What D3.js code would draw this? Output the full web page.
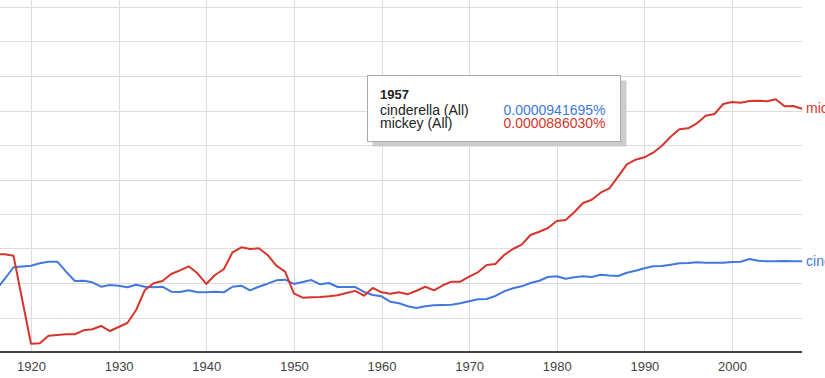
<!DOCTYPE html>
<html>
<meta charset="utf-8">
<style>

body {
  margin: 0;
  font: 13px "Liberation Sans", Arial, sans-serif;
  background: #fff;
}

.grid line {
  stroke: #dcdcdc;
  stroke-width: 1px;
  shape-rendering: crispEdges;
}

.axis-line {
  stroke: #444;
  stroke-width: 2px;
  shape-rendering: crispEdges;
}

.x.axis text {
  fill: #444;
  font-size: 13px;
}

.line {
  fill: none;
  stroke-width: 2px;
  stroke-linejoin: round;
}

.tip text {
  font-size: 14px;
  fill: #222;
}

</style>
<body>
<script src="https://d3js.org/d3.v7.min.js"></script>
<script>

// values are in millionths of a percent (94.1695 -> 0.0000941695%)
var years = d3.range(1916, 2009);

var cinderella = [
  89.9, 105.8, 122.8, 123.9, 125.1, 128.6, 130.9, 130.9, 116.4, 102.9,
  103.3, 101.0, 94.6, 97.1, 96.1, 93.8, 97.5, 94.6, 93.8, 94.6,
  87.4, 87.0, 89.4, 86.5, 86.5, 87.4, 86.5, 94.6, 96.1, 89.4,
  94.6, 99.0, 103.9, 104.8, 98.6, 101.4, 104.3, 98.1, 100.0, 94.2,
  94.2, 94.1695, 87.0, 82.6, 80.7, 72.9, 70.6, 66.4, 63.8, 66.2,
  67.7, 68.1, 68.6, 70.6, 73.5, 76.4, 76.8, 81.2, 88.0, 92.3,
  95.2, 100.0, 103.3, 108.7, 109.7, 106.2, 108.3, 109.7, 108.7, 112.0,
  110.9, 110.1, 114.9, 117.8, 121.3, 124.2, 124.6, 126.5, 128.6, 129.0,
  130.0, 129.4, 129.4, 129.4, 130.4, 130.9, 134.8, 132.3, 131.4, 131.4,
  131.9, 131.4, 131.4
];

var mickey = [
  142.0, 141.6, 139.6, 75.8, 12.0, 12.6, 23.6, 24.6, 25.7, 25.7,
  31.4, 32.9, 37.7, 30.4, 36.2, 42.0, 60.9, 89.9, 99.6, 102.9,
  113.0, 118.4, 124.2, 114.1, 98.6, 111.6, 119.9, 144.5, 151.7, 149.3,
  150.3, 140.6, 125.1, 116.4, 85.1, 78.7, 79.3, 79.7, 80.7, 82.2,
  85.5, 88.6030, 81.6, 92.8, 86.5, 84.5, 86.5, 83.8, 88.8, 94.6,
  89.4, 96.7, 101.9, 101.9, 109.1, 115.5, 126.1, 127.5, 140.6, 149.3,
  155.5, 169.6, 174.3, 179.7, 189.9, 191.3, 202.5, 215.9, 220.7, 230.9,
  237.2, 254.1, 272.0, 278.7, 282.2, 288.8, 299.0, 312.0, 322.8, 324.2,
  331.4, 342.5, 344.9, 359.4, 362.3, 361.3, 363.8, 364.2, 363.3, 366.2,
  356.1, 356.5, 352.6
];

var series = [
  {name: "cinderella", label: "cinderella (All)", values: cinderella, color: "#4277e0"},
  {name: "mickey", label: "mickey (All)", values: mickey, color: "#d6352c"}
];

var xTicks = d3.range(1920, 2001, 10);
var yTicks = d3.range(50, 501, 50);
var tipYear = 1957;

var width = 825,
    height = 378,
    plotRight = 802,
    baseline = 352;

var x = d3.scaleLinear()
    .domain([1920, 2000])
    .range([31, 732]);

var y = d3.scaleLinear()
    .domain([0, 500])
    .range([baseline, 7]);

var svg = d3.select("body").append("svg")
    .attr("width", width)
    .attr("height", height);

svg.append("defs").append("clipPath")
    .attr("id", "plot")
  .append("rect")
    .attr("x", 0)
    .attr("y", 0)
    .attr("width", plotRight + 1)
    .attr("height", baseline);

var grid = svg.append("g").attr("class", "grid");

grid.selectAll(".h")
    .data(yTicks)
  .enter().append("line")
    .attr("class", "h")
    .attr("x1", 0)
    .attr("x2", plotRight)
    .attr("y1", function(d) { return Math.round(y(d)) + 0.5; })
    .attr("y2", function(d) { return Math.round(y(d)) + 0.5; });

grid.selectAll(".v")
    .data(xTicks)
  .enter().append("line")
    .attr("class", "v")
    .attr("x1", function(d) { return Math.round(x(d)) + 0.5; })
    .attr("x2", function(d) { return Math.round(x(d)) + 0.5; })
    .attr("y1", 0)
    .attr("y2", baseline);

var line = d3.line()
    .x(function(d, i) { return x(years[i]); })
    .y(function(d) { return y(d); });

var plot = svg.append("g").attr("clip-path", "url(#plot)");

plot.selectAll(".line")
    .data(series)
  .enter().append("path")
    .attr("class", "line")
    .attr("stroke", function(d) { return d.color; })
    .attr("d", function(d) { return line(d.values); });

svg.selectAll(".end-label")
    .data(series)
  .enter().append("text")
    .attr("class", "end-label")
    .attr("x", x(years[years.length - 1]) + 4)
    .attr("y", function(d) { return y(d.values[d.values.length - 1]); })
    .attr("dy", "0.3em")
    .attr("fill", function(d) { return d.color; })
    .style("font-size", "14px")
    .text(function(d) { return d.name; });

svg.append("line")
    .attr("class", "axis-line")
    .attr("x1", 0)
    .attr("x2", plotRight)
    .attr("y1", baseline)
    .attr("y2", baseline);

var xAxis = d3.axisBottom(x)
    .tickValues(xTicks)
    .tickFormat(d3.format("d"))
    .tickSize(0)
    .tickPadding(9);

svg.append("g")
    .attr("class", "x axis")
    .attr("transform", "translate(0," + (baseline + 1) + ")")
    .call(xAxis)
    .call(function(g) { g.select(".domain").remove(); });

// hover tooltip for 1957
var tip = svg.append("g")
    .attr("class", "tip")
    .attr("transform", "translate(367.5,75.5)");

tip.append("rect")
    .attr("x", 5)
    .attr("y", 5)
    .attr("width", 254)
    .attr("height", 66)
    .attr("fill", "#cccccc");

tip.append("rect")
    .attr("width", 253)
    .attr("height", 66)
    .attr("fill", "#fff")
    .attr("stroke", "#a8a8a8");

tip.append("text")
    .attr("x", 12.5)
    .attr("y", 23)
    .style("font-weight", "bold")
    .style("font-size", "13px")
    .text(tipYear);

var ti = years.indexOf(tipYear);

var rows = tip.selectAll(".row")
    .data(series)
  .enter().append("g")
    .attr("class", "row")
    .attr("transform", function(d, i) { return "translate(0," + (39 + i * 13) + ")"; });

rows.append("text")
    .attr("x", 12.5)
    .text(function(d) { return d.label; });

rows.append("text")
    .attr("x", 238)
    .attr("text-anchor", "end")
    .style("fill", function(d) { return d.color; })
    .text(function(d) { return (d.values[ti] / 1e6).toFixed(10) + "%"; });

</script>
</body>
</html>
